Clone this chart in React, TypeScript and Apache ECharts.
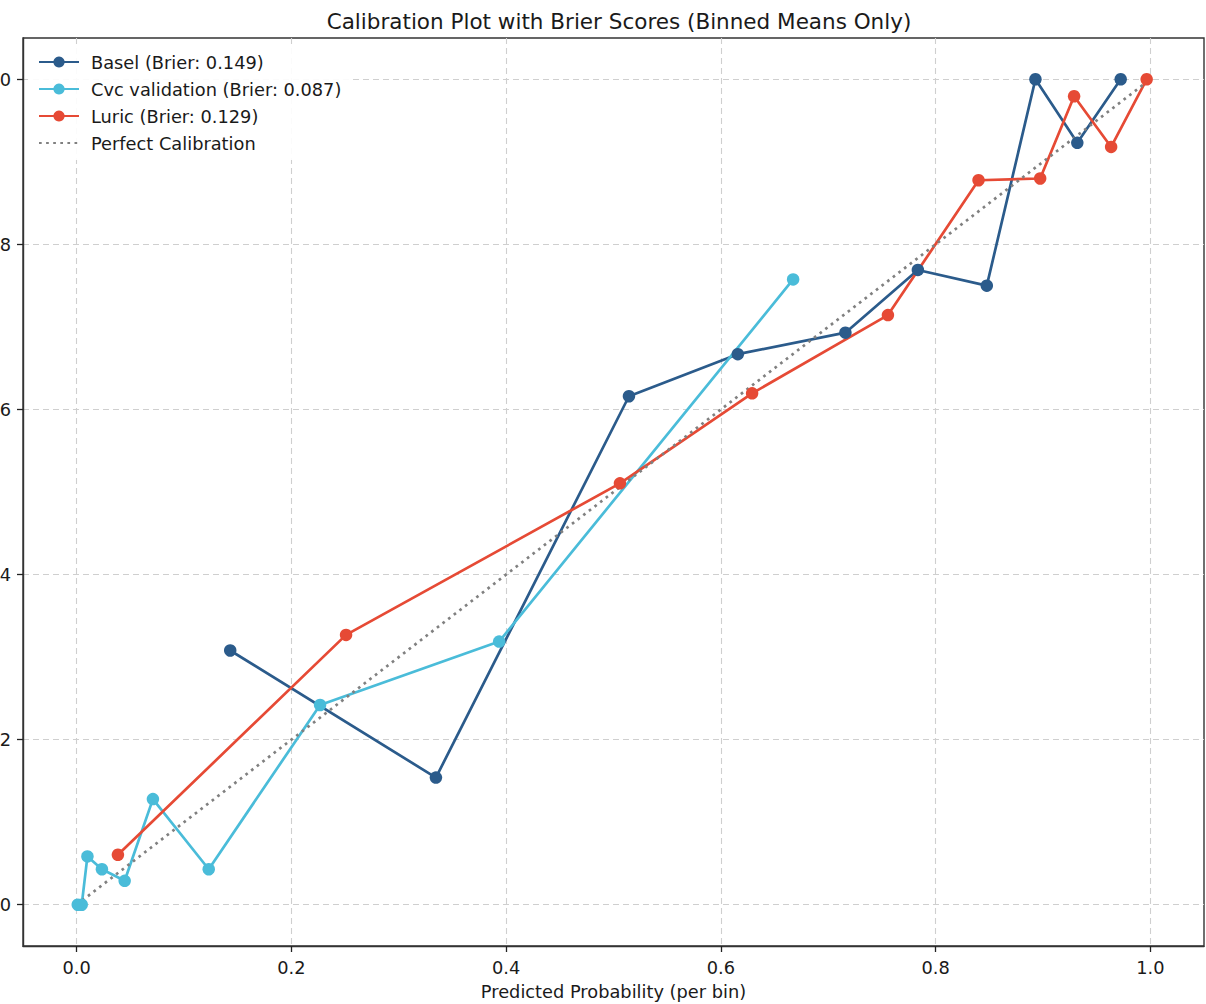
import React, { useEffect, useRef } from "react";
import * as echarts from "echarts";

const titleText = "Calibration Plot with Brier Scores (Binned Means Only)";
const xAxisName = "Predicted Probability (per bin)";
const tickValues = [0, 0.2, 0.4, 0.6, 0.8, 1.0];

const baselName = "Basel (Brier: 0.149)";
const baselX = [0.143, 0.3346, 0.5144, 0.6158, 0.716, 0.7835, 0.8477, 0.893, 0.932, 0.9724];
const baselY = [0.308, 0.154, 0.616, 0.667, 0.693, 0.769, 0.75, 1.0, 0.923, 1.0];

const cvcName = "Cvc validation (Brier: 0.087)";
const cvcX = [0.001, 0.0047, 0.0100, 0.0235, 0.0447, 0.071, 0.123, 0.2267, 0.3935, 0.6673];
const cvcY = [0, 0, 0.0585, 0.043, 0.029, 0.128, 0.043, 0.242, 0.3188, 0.7575];

const luricName = "Luric (Brier: 0.129)";
const luricX = [0.0384, 0.2509, 0.506, 0.6291, 0.7556, 0.84, 0.8974, 0.929, 0.9635, 0.9966];
const luricY = [0.0605, 0.3269, 0.5105, 0.6195, 0.7143, 0.8777, 0.8798, 0.9794, 0.918, 1.0];

const perfectName = "Perfect Calibration";
const perfectX = [0, 1];
const perfectY = [0, 1];

const FONT = "DejaVu Sans";

function zip(xs: number[], ys: number[]) {
  return xs.map((x, i) => [x, ys[i]]);
}

export default function App() {
  const ref = useRef<HTMLDivElement>(null);
  useEffect(() => {
    if (!ref.current) return;
    const chart = echarts.init(ref.current, undefined, { renderer: "svg" });
    const lineSeries = (name: string, xs: number[], ys: number[], color: string) => ({
      name,
      type: "line",
      data: zip(xs, ys),
      symbol: "circle",
      symbolSize: 12.5,
      showSymbol: true,
      lineStyle: { color, width: 2.7 },
      itemStyle: { color },
      emphasis: { disabled: true },
    });
    const axisCommon = {
      type: "value",
      min: -0.05,
      max: 1.05,
      axisLine: { show: true, onZero: false, lineStyle: { color: "#333", width: 1.4 } },
      axisTick: {
        show: true,
        customValues: tickValues,
        length: 6,
        lineStyle: { color: "#222", width: 1.3 },
      },
      splitLine: {
        show: true,
        lineStyle: { color: "#cfcfcf", width: 1.1, type: [6, 4] },
      },
    };
    chart.setOption({
      animation: false,
      backgroundColor: "#ffffff",
      textStyle: { fontFamily: FONT },
      title: {
        text: titleText,
        left: 614,
        textAlign: "center",
        top: 5,
        textStyle: { fontFamily: FONT, fontSize: 21.5, fontWeight: "normal", color: "#1a1a1a" },
      },
      grid: {
        left: 23,
        right: 2,
        top: 38,
        bottom: 58,
        containLabel: false,
        outerBoundsMode: "none",
        show: true,
        borderColor: "#333",
        borderWidth: 1.4,
        backgroundColor: "transparent",
      },
      legend: {
        orient: "vertical",
        left: 28,
        top: 45,
        padding: [8, 10, 8, 10],
        itemWidth: 40,
        itemHeight: 14,
        itemGap: 9,
        backgroundColor: "rgba(255,255,255,0.9)",
        borderWidth: 0,
        borderRadius: 4,
        textStyle: { fontFamily: FONT, fontSize: 17.8, color: "#1a1a1a", padding: [0, 0, 0, 7] },
        data: [
          baselName,
          cvcName,
          luricName,
          { name: perfectName, itemStyle: { opacity: 0 } },
        ],
      },
      xAxis: {
        ...axisCommon,
        name: xAxisName,
        nameLocation: "middle",
        nameGap: 36,
        nameTextStyle: { fontFamily: FONT, fontSize: 17.8, color: "#1a1a1a" },
        axisLabel: {
          customValues: tickValues,
          margin: 12,
          fontFamily: FONT,
          fontSize: 17.8,
          color: "#1a1a1a",
          formatter: (v: number) => v.toFixed(1),
        },
      },
      yAxis: {
        ...axisCommon,
        axisLabel: {
          customValues: tickValues,
          margin: 12,
          fontFamily: FONT,
          fontSize: 17.8,
          color: "#1a1a1a",
          formatter: (v: number) => v.toFixed(1),
        },
      },
      series: [
        lineSeries(baselName, baselX, baselY, "#2b5b8b"),
        lineSeries(cvcName, cvcX, cvcY, "#4abcd9"),
        lineSeries(luricName, luricX, luricY, "#e64a35"),
        {
          name: perfectName,
          type: "line",
          data: zip(perfectX, perfectY),
          symbol: "none",
          lineStyle: { color: "#808080", width: 2.7, type: [2.7, 4.4] },
          itemStyle: { color: "#808080" },
          emphasis: { disabled: true },
        },
      ],
    });
    return () => chart.dispose();
  }, []);
  return (
    <div
      ref={ref}
      style={{ position: "absolute", left: 0, top: 0, width: 1206, height: 1004 }}
    />
  );
}
